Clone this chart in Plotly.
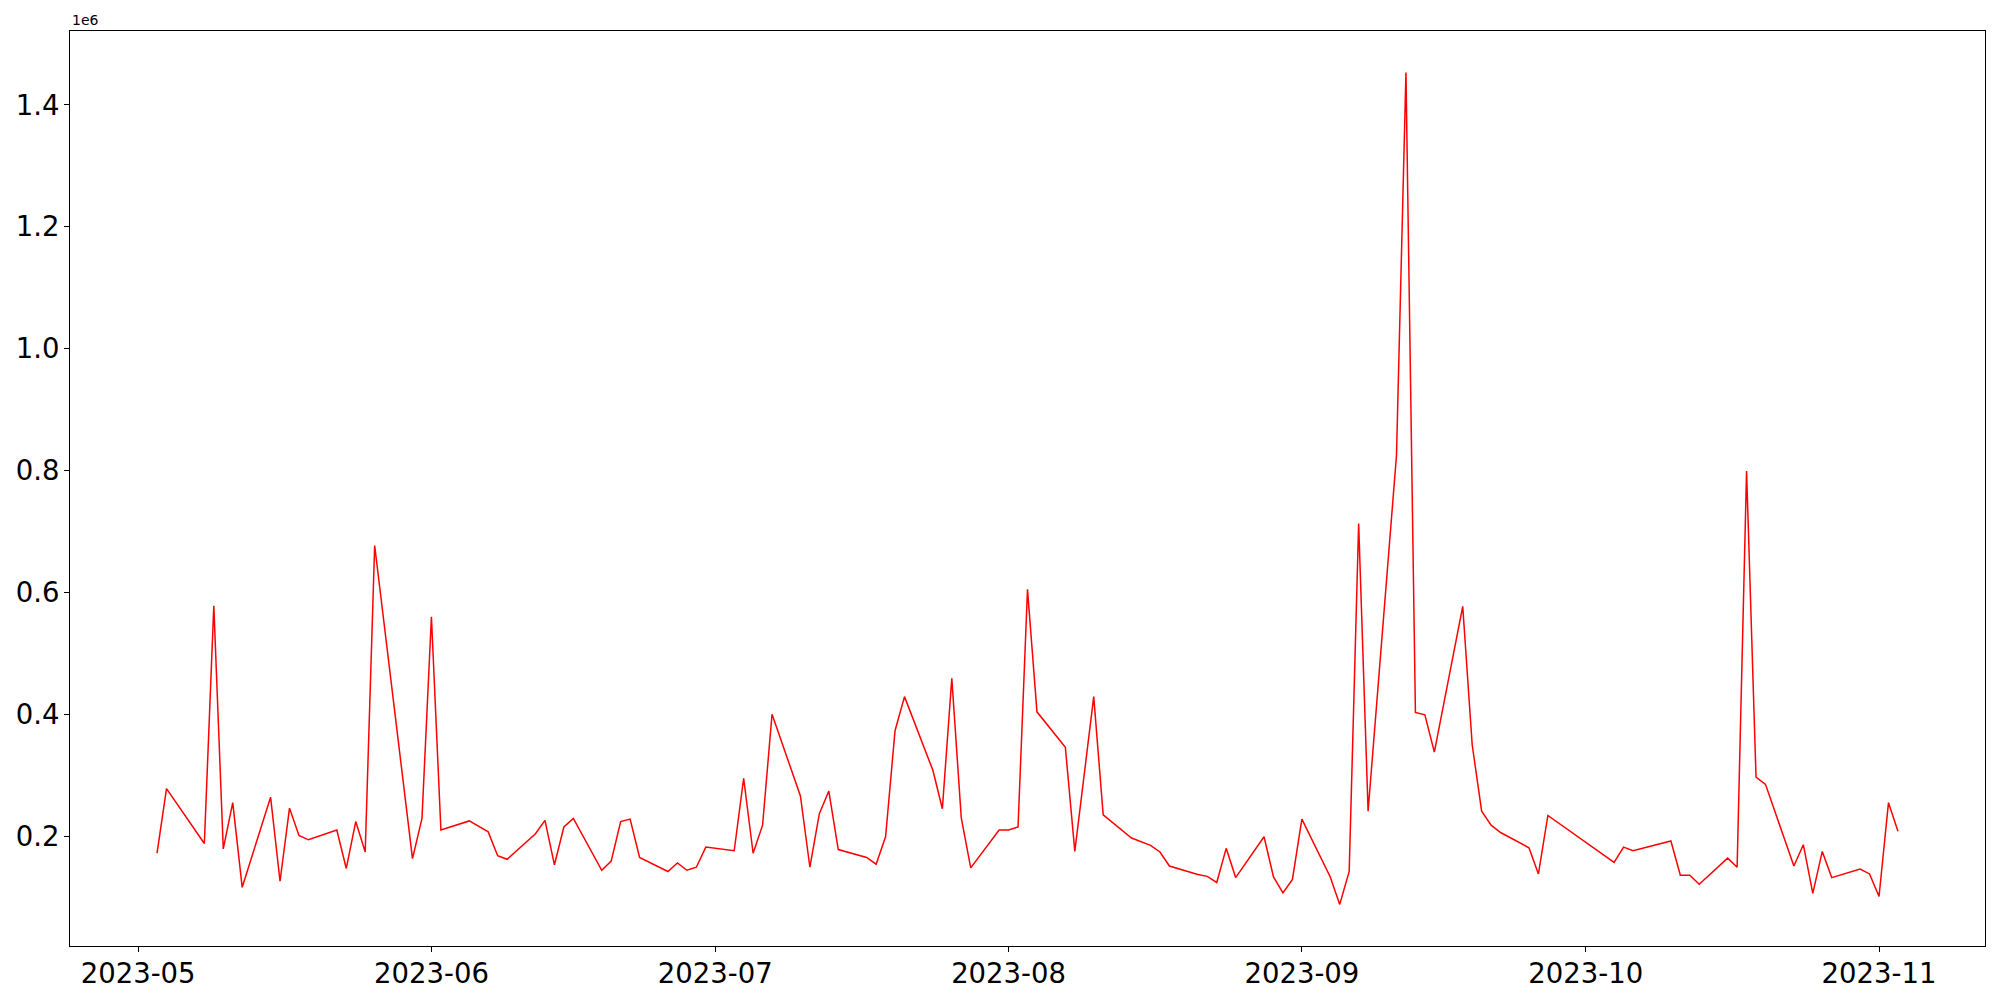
import pandas as pd
import plotly.graph_objects as go

dates = [
    "2023-05-03", "2023-05-04", "2023-05-08", "2023-05-09", "2023-05-10", "2023-05-11", "2023-05-12",
    "2023-05-15", "2023-05-16", "2023-05-17", "2023-05-18", "2023-05-19", "2023-05-22", "2023-05-23",
    "2023-05-24", "2023-05-25", "2023-05-26", "2023-05-30", "2023-05-31", "2023-06-01", "2023-06-02",
    "2023-06-05", "2023-06-07", "2023-06-08", "2023-06-09", "2023-06-12", "2023-06-13", "2023-06-14",
    "2023-06-15", "2023-06-16", "2023-06-19", "2023-06-20", "2023-06-21", "2023-06-22", "2023-06-23",
    "2023-06-26", "2023-06-27", "2023-06-28", "2023-06-29", "2023-06-30", "2023-07-03", "2023-07-04",
    "2023-07-05", "2023-07-06", "2023-07-07", "2023-07-10", "2023-07-11", "2023-07-12", "2023-07-13",
    "2023-07-14", "2023-07-17", "2023-07-18", "2023-07-19", "2023-07-20", "2023-07-21", "2023-07-24",
    "2023-07-25", "2023-07-26", "2023-07-27", "2023-07-28", "2023-07-31", "2023-08-01", "2023-08-02",
    "2023-08-03", "2023-08-04", "2023-08-07", "2023-08-08", "2023-08-10", "2023-08-11", "2023-08-14",
    "2023-08-16", "2023-08-17", "2023-08-18", "2023-08-21", "2023-08-22", "2023-08-23", "2023-08-24",
    "2023-08-25", "2023-08-28", "2023-08-29", "2023-08-30", "2023-08-31", "2023-09-01", "2023-09-04",
    "2023-09-05", "2023-09-06", "2023-09-07", "2023-09-08", "2023-09-11", "2023-09-12", "2023-09-13",
    "2023-09-14", "2023-09-15", "2023-09-18", "2023-09-19", "2023-09-20", "2023-09-21", "2023-09-22",
    "2023-09-25", "2023-09-26", "2023-09-27", "2023-10-04", "2023-10-05", "2023-10-06", "2023-10-10",
    "2023-10-11", "2023-10-12", "2023-10-13", "2023-10-16", "2023-10-17", "2023-10-18", "2023-10-19",
    "2023-10-20", "2023-10-23", "2023-10-24", "2023-10-25", "2023-10-26", "2023-10-27", "2023-10-30",
    "2023-10-31", "2023-11-01", "2023-11-02", "2023-11-03",
]

values = [
    172000, 278000, 188000, 578000, 179000, 255000, 116000,
    264000, 126000, 246000, 201000, 194000, 210000, 147000,
    224000, 174000, 677000, 163000, 229000, 560000, 210000,
    225000, 207000, 168000, 162000, 204000, 226000, 153000,
    215000, 229000, 144000, 159000, 224000, 228000, 165000,
    142000, 156000, 144000, 149000, 182000, 176000, 295000,
    172000, 218000, 400000, 266000, 149000, 237000, 274000,
    178000, 165000, 154000, 199000, 373000, 429000, 308000,
    245000, 459000, 230000, 148000, 210000, 210000, 215000,
    605000, 404000, 346000, 175000, 429000, 235000, 197000,
    185000, 174000, 151000, 137000, 134000, 124000, 180000,
    132000, 199000, 133000, 107000, 129000, 228000, 133000,
    88000, 142000, 713000, 241000, 825000, 1453000, 403000,
    399000, 338000, 577000, 350000, 241000, 218000, 206000,
    181000, 138000, 234000, 157000, 182000, 176000, 192000,
    136000, 136000, 121000, 164000, 149000, 799000, 297000,
    285000, 151000, 186000, 106000, 175000, 132000, 146000,
    138000, 101000, 255000, 208000,
]

x_ticks = ["2023-05-01", "2023-06-01", "2023-07-01", "2023-08-01", "2023-09-01", "2023-10-01", "2023-11-01"]
x_tick_labels = ["2023-05", "2023-06", "2023-07", "2023-08", "2023-09", "2023-10", "2023-11"]
y_ticks = [200000, 400000, 600000, 800000, 1000000, 1200000, 1400000]
y_tick_labels = ["0.2", "0.4", "0.6", "0.8", "1.0", "1.2", "1.4"]

# matplotlib-style 5% margins
dt = pd.to_datetime(dates)
span = dt.max() - dt.min()
x_range = [dt.min() - span * 0.05, dt.max() + span * 0.05]
vspan = max(values) - min(values)
y_range = [min(values) - vspan * 0.05, max(values) + vspan * 0.05]

fig = go.Figure()
fig.add_trace(go.Scatter(x=dt, y=values, mode="lines", line=dict(color="red", width=1.5)))

axis_style = dict(
    showline=True, mirror=True, linecolor="black", linewidth=1,
    showgrid=False, zeroline=False, automargin=False,
    ticks="outside", ticklen=5, tickwidth=1, tickcolor="black",
    tickfont=dict(family="DejaVu Sans", size=27.5, color="black"),
)
fig.update_xaxes(range=x_range, tickvals=pd.to_datetime(x_ticks), ticktext=x_tick_labels,
                 ticklabelstandoff=-2, **axis_style)
fig.update_yaxes(range=y_range, tickvals=y_ticks, ticktext=y_tick_labels,
                 ticklabelstandoff=-1, **axis_style)

fig.add_annotation(
    text="1e6", xref="paper", yref="paper", x=0, y=1, xanchor="left", yanchor="bottom",
    showarrow=False, font=dict(family="DejaVu Sans", size=14, color="black"), yshift=1,
)

# page body has an 8px margin, so shift margins to put the axes box at 70..1985 x 31..946
fig.update_layout(
    width=2000, height=1000,
    margin=dict(l=62, r=23, t=23, b=62),
    plot_bgcolor="white", paper_bgcolor="white",
    showlegend=False,
)

fig.write_html("out.html")
